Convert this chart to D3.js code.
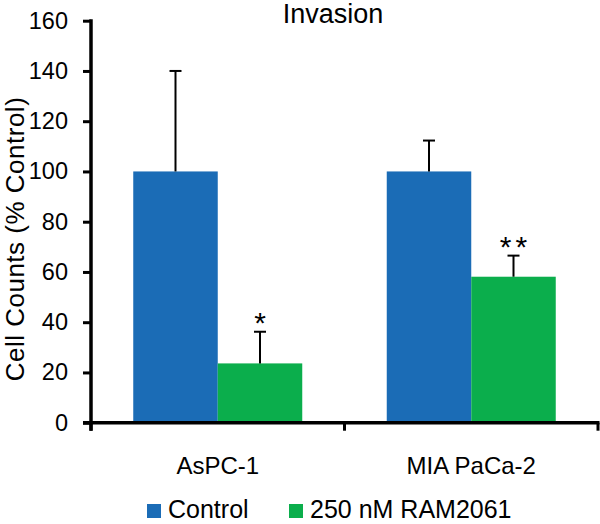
<!DOCTYPE html>
<html>
<head>
<meta charset="utf-8">
<script src="https://cdn.jsdelivr.net/npm/d3@7"></script>
<style>
  html, body { margin: 0; padding: 0; background: #fff; }
  svg { display: block; font-family: "Liberation Sans", Arial, sans-serif; }
</style>
</head>
<body>
<svg id="chart" width="600" height="524"></svg>
<script>
const categories = ["AsPC-1", "MIA PaCa-2"];
const seriesNames = ["Control", "250 nM RAM2061"];
const controlValues = [100, 100];
const controlErrors = [40, 12.3];
const treatedValues = [23.6, 58.1];
const treatedErrors = [12.6, 8.4];
const significance = ["*", "**"];
const yTicks = [0, 20, 40, 60, 80, 100, 120, 140, 160];
const colors = ["#1B6CB6", "#0BAE4C"];
const chartTitle = "Invasion";
const yLabel = "Cell Counts (% Control)";

const svg = d3.select("#chart");
const mLeft = 91, mRight = 598, mTop = 20.7, mBottom = 422.7;

const y = d3.scaleLinear().domain([0, 160]).range([mBottom, mTop]);
const x0 = d3.scaleBand().domain(categories).range([mLeft, mRight]).paddingInner(0).paddingOuter(0);
const x1 = d3.scaleBand().domain(seriesNames)
  .range([x0.bandwidth() / 6, x0.bandwidth() * 5 / 6]).padding(0);

const data = categories.map((c, i) => ({
  cat: c,
  vals: [
    { s: seriesNames[0], v: controlValues[i], e: controlErrors[i], sig: "" },
    { s: seriesNames[1], v: treatedValues[i], e: treatedErrors[i], sig: significance[i] }
  ]
}));

// Bars
const groups = svg.selectAll("g.grp").data(data).join("g")
  .attr("class", "grp")
  .attr("transform", d => `translate(${x0(d.cat)},0)`);

groups.selectAll("rect").data(d => d.vals).join("rect")
  .attr("x", d => x1(d.s))
  .attr("width", x1.bandwidth())
  .attr("y", d => y(d.v))
  .attr("height", d => y(0) - y(d.v))
  .attr("fill", (d, i) => colors[i]);

// Error bars (upper only)
const capW = 12;
groups.selectAll("g.err").data(d => d.vals).join("g")
  .attr("class", "err")
  .each(function(d) {
    const g = d3.select(this);
    const cx = x1(d.s) + x1.bandwidth() / 2;
    g.append("line").attr("x1", cx).attr("x2", cx)
      .attr("y1", y(d.v)).attr("y2", y(d.v + d.e))
      .attr("stroke", "#000").attr("stroke-width", 2);
    g.append("line").attr("x1", cx - capW / 2).attr("x2", cx + capW / 2)
      .attr("y1", y(d.v + d.e)).attr("y2", y(d.v + d.e))
      .attr("stroke", "#000").attr("stroke-width", 2);
    if (d.sig) {
      g.append("text").attr("x", cx + (d.sig.length > 1 ? 2 : 0)).attr("y", y(d.v + d.e) + 1)
        .attr("text-anchor", "middle")
        .attr("font-size", 30).attr("letter-spacing", d.sig.length > 1 ? 4 : 0)
        .attr("fill", "#000")
        .text(d.sig);
    }
  });

// Y axis
const yAxis = d3.axisLeft(y).tickValues(yTicks).tickSize(8).tickSizeOuter(0).tickPadding(15);
const yg = svg.append("g").attr("transform", `translate(${mLeft},0)`).call(yAxis);
yg.select(".domain").remove();
yg.selectAll(".tick line").attr("stroke", "#000").attr("stroke-width", 3);
yg.selectAll(".tick text").attr("font-size", 23.5).attr("fill", "#000")
  .attr("font-family", "Liberation Sans, Arial, sans-serif");
svg.append("line").attr("x1", mLeft).attr("x2", mLeft)
  .attr("y1", mTop - 1.5).attr("y2", mBottom + 8)
  .attr("stroke", "#000").attr("stroke-width", 3.5);

// X axis
const xAxis = d3.axisBottom(x0).tickSize(0).tickPadding(34);
const xg = svg.append("g").attr("transform", `translate(0,${mBottom})`).call(xAxis);
xg.select(".domain").remove();
xg.selectAll(".tick text").attr("font-size", 24).attr("fill", "#000")
  .attr("font-family", "Liberation Sans, Arial, sans-serif");
svg.append("line").attr("x1", mLeft - 8).attr("x2", mRight + 1.5)
  .attr("y1", mBottom).attr("y2", mBottom)
  .attr("stroke", "#000").attr("stroke-width", 3.5);
// category boundary ticks
const boundaries = [mLeft].concat(categories.map(c => x0(c) + x0.bandwidth()));
svg.selectAll("line.xb").data(boundaries).join("line")
  .attr("class", "xb")
  .attr("x1", d => d).attr("x2", d => d)
  .attr("y1", mBottom).attr("y2", mBottom + 8)
  .attr("stroke", "#000").attr("stroke-width", 3);

// Title
svg.append("text").attr("x", 333).attr("y", 23)
  .attr("text-anchor", "middle").attr("font-size", 27).attr("fill", "#000")
  .text(chartTitle);

// Y label
svg.append("text")
  .attr("transform", `translate(24,239) rotate(-90)`)
  .attr("text-anchor", "middle").attr("font-size", 26).attr("fill", "#000")
  .attr("letter-spacing", 0.5)
  .text(yLabel);

// Legend
const legendX = [147, 289];
const lg = svg.selectAll("g.leg").data(seriesNames).join("g")
  .attr("class", "leg")
  .attr("transform", (d, i) => `translate(${legendX[i]},504)`);
lg.append("rect").attr("width", 14).attr("height", 14).attr("fill", (d, i) => colors[i]);
lg.append("text").attr("x", 21).attr("y", 14).attr("font-size", 25).attr("fill", "#000")
  .text(d => d);
</script>
</body>
</html>
